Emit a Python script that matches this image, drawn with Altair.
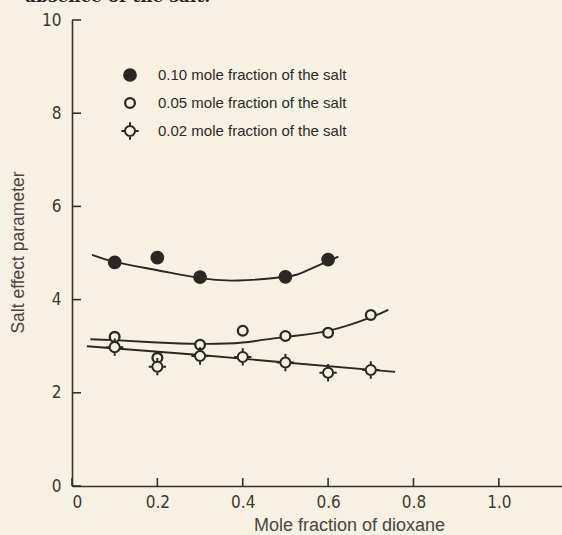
import altair as alt
import pandas as pd

caption = "absence of the salt."
series = ["0.10 mole fraction of the salt",
          "0.05 mole fraction of the salt",
          "0.02 mole fraction of the salt"]

# measured points
x_10 = [0.1, 0.2, 0.3, 0.5, 0.6]
y_10 = [4.80, 4.90, 4.48, 4.49, 4.86]
x_05 = [0.1, 0.2, 0.3, 0.4, 0.5, 0.6, 0.7]
y_05 = [3.20, 2.75, 3.03, 3.33, 3.22, 3.29, 3.67]
x_02 = [0.1, 0.2, 0.3, 0.4, 0.5, 0.6, 0.7]
y_02 = [2.98, 2.56, 2.79, 2.77, 2.65, 2.43, 2.49]

# hand-drawn fitted curves
cx_10 = [0.047, 0.1, 0.2, 0.3, 0.39, 0.5, 0.55, 0.624]
cy_10 = [4.96, 4.81, 4.63, 4.46, 4.41, 4.49, 4.62, 4.92]
cx_05 = [0.043, 0.1, 0.2, 0.3, 0.4, 0.5, 0.6, 0.7, 0.741]
cy_05 = [3.15, 3.13, 3.08, 3.05, 3.08, 3.20, 3.33, 3.62, 3.78]
cx_02 = [0.035, 0.3, 0.5, 0.757]
cy_02 = [3.0, 2.81, 2.65, 2.45]

x_ticks = [0, 0.2, 0.4, 0.6, 0.8, 1.0]
y_ticks = [0, 2, 4, 6, 8, 10]

PAPER = "#f6f1e2"
INK = "#2b2723"
AXIS = "#3b3029"
TEXT = "#3d3833"

curves = pd.DataFrame(
    [{"x": a, "y": b, "s": series[0]} for a, b in zip(cx_10, cy_10)]
    + [{"x": a, "y": b, "s": series[1]} for a, b in zip(cx_05, cy_05)]
    + [{"x": a, "y": b, "s": series[2]} for a, b in zip(cx_02, cy_02)]
)

xs = alt.Scale(domain=[0, 1.148], nice=False, zero=False)
ys = alt.Scale(domain=[0, 10], nice=False)

crossed = ("M -0.58 0 A 0.58 0.58 0 1 0 0.58 0 A 0.58 0.58 0 1 0 -0.58 0 Z "
           "M -1 0 L -0.58 0 M 0.58 0 L 1 0 M 0 -1 L 0 -0.58 M 0 0.58 L 0 1")

styles = [
    dict(shape="circle", fill=INK, stroke=INK, strokeWidth=1.5, size=150),
    dict(shape="circle", fill=PAPER, stroke=INK, strokeWidth=2.3, size=95),
    dict(shape=crossed, fill=PAPER, stroke=INK, strokeWidth=2.0, size=300),
]

x_axis = alt.Axis(
    values=x_ticks, ticks=False, grid=False,
    labelExpr="datum.value == 0 ? '0' : format(datum.value, '.1f')",
    labelFont="DejaVu Sans Condensed", labelFontSize=17, labelColor=TEXT,
    labelPadding=8, domainColor=AXIS, domainWidth=1.6,
    title="Mole fraction of dioxane", titleFont="Liberation Sans",
    titleFontSize=18, titleFontWeight="normal", titleColor="#4a4440",
    titleX=277, titleY=30, titleAlign="center", titleBaseline="top",
)
y_axis = alt.Axis(
    values=y_ticks, ticks=False, grid=False,
    labelFont="DejaVu Sans Condensed", labelFontSize=17, labelColor=TEXT,
    labelPadding=11, domainColor=AXIS, domainWidth=1.6,
    title="Salt effect parameter", titleFont="Liberation Sans",
    titleFontSize=17.5, titleFontWeight="normal", titleColor="#4a4440",
    titleX=-54, titleY=232, titleAngle=270, titleAlign="center",
    titleBaseline="middle",
)

lines = alt.Chart(curves).mark_line(
    interpolate="natural", color=INK, strokeWidth=1.9
).encode(
    x=alt.X("x:Q", scale=xs, axis=x_axis),
    y=alt.Y("y:Q", scale=ys, axis=y_axis),
    detail="s:N",
)

layers = [lines]
for xv, yv, st in zip([x_10, x_05, x_02], [y_10, y_05, y_02], styles):
    df = pd.DataFrame({"x": xv, "y": yv})
    layers.append(
        alt.Chart(df).mark_point(opacity=1, fillOpacity=1, **st).encode(
            x=alt.X("x:Q", scale=xs), y=alt.Y("y:Q", scale=ys, axis=None))
    )

ytick = alt.Chart(pd.DataFrame({"v": y_ticks})).mark_rule(color=AXIS, strokeWidth=1.6).encode(
    y=alt.Y("v:Q", scale=ys, axis=None), x=alt.value(0), x2=alt.value(9))
xtick = alt.Chart(pd.DataFrame({"v": x_ticks})).mark_rule(color=AXIS, strokeWidth=1.6).encode(
    x=alt.X("v:Q", scale=xs), y=alt.value(466), y2=alt.value(458))
layers += [ytick, xtick]

# legend, laid out with its own pixel scale for the rows
leg_scale = alt.Scale(type="point", domain=series, range=[55, 111], padding=0)
for name, st in zip(series, styles):
    ldf = pd.DataFrame({"s": [name]})
    layers.append(
        alt.Chart(ldf).mark_point(opacity=1, fillOpacity=1, **st).encode(
            y=alt.Y("s:N", scale=leg_scale, axis=None), x=alt.value(58))
    )
layers.append(
    alt.Chart(pd.DataFrame({"s": series})).mark_text(
        align="left", baseline="middle", font="Liberation Sans", fontSize=15,
        color="#2f2a26"
    ).encode(y=alt.Y("s:N", scale=leg_scale, axis=None), x=alt.value(86), text="s:N")
)

cap = alt.Chart(pd.DataFrame({"t": [caption]})).mark_text(
    align="left", baseline="alphabetic", font="DejaVu Serif", fontWeight="bold",
    fontSize=17, color="#2a2622"
).encode(text="t:N", x=alt.value(-47), y=alt.value(-18))
layers.append(cap)

chart = alt.layer(*layers).resolve_scale(y="independent").properties(
    width=490, height=466,
    autosize=alt.AutoSizeParams(type="none"),
    padding={"left": 72, "top": 20, "right": 0, "bottom": 49},
    background=PAPER,
).configure_view(stroke=None)

chart.save("out.html", embed_options={"renderer": "svg", "actions": False})
